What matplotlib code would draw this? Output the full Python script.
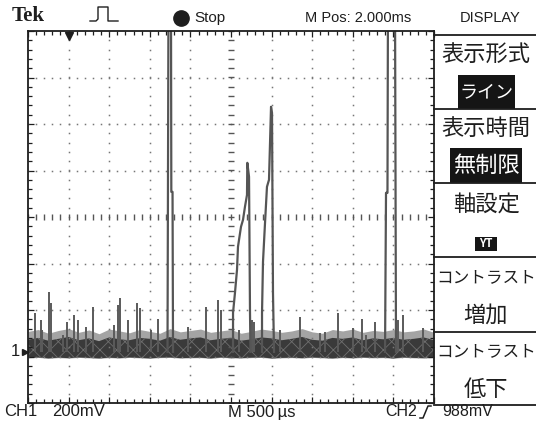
import numpy as np
import matplotlib.pyplot as plt
from matplotlib.lines import Line2D
from matplotlib.patches import Rectangle
from matplotlib.ticker import MultipleLocator

# scope settings: 500 us/div, 200 mV/div, CH1 ground 2.9 div below centre
ms_per_div = 0.5
mv_per_div = 200.0
ground_div = -2.9

# noise band envelope (mV above ground), sampled every 0.125 ms
band_t = np.arange(0, 5.001, 0.125)
band_top = [52, 60, 48, 56, 64, 50, 58, 46, 62, 54, 50, 60, 56, 48, 64, 52, 58, 62, 50, 56, 60,
            48, 54, 62, 58, 50, 56, 64, 52, 48, 60, 56, 62, 50, 58, 54, 60, 52, 56, 62, 50]
fuzz_top = [88, 96, 80, 92, 100, 84, 94, 78, 98, 90, 82, 96, 88, 80, 100, 86, 92, 98, 84, 90, 96,
            80, 88, 98, 92, 84, 90, 100, 86, 80, 96, 90, 98, 84, 92, 88, 96, 86, 90, 98, 84]
band_bot = [-26, -24, -28, -25, -27, -24, -26, -28, -25, -27, -24, -26, -28, -25, -24, -27, -26, -25, -28, -24, -26,
            -27, -25, -24, -28, -26, -25, -27, -24, -26, -28, -25, -27, -24, -26, -25, -28, -24, -26, -27, -25]

# small noise spikes: time (ms), peak (mV)
spike_t = [0.086, 0.160, 0.172, 0.259, 0.283, 0.431, 0.480, 0.567, 0.616, 0.714, 0.800,
           1.059, 1.108, 1.133, 1.232, 1.342, 1.379, 1.515, 1.601, 1.970, 2.192, 2.340,
           2.377, 2.599, 2.759, 2.783, 3.103, 3.350, 3.596, 3.658, 3.818, 4.002, 4.113,
           4.163, 4.273, 4.557, 4.618, 4.865]
spike_mv = [168, 138, 95, 258, 211, 73, 129, 159, 138, 108, 194,
            116, 202, 232, 138, 211, 189, 95, 142, 108, 194, 224,
            181, 95, 138, 129, 95, 151, 82, 86, 168, 103, 142,
            73, 129, 138, 159, 103]

# large pulses (ms, mV)
pulse_a_t = [1.718, 1.730, 1.761, 1.765, 1.780, 1.786]
pulse_a_mv = [0, 1500, 1500, 688, 688, 0]
hump1_t = [2.525, 2.525, 2.549, 2.574, 2.586, 2.623, 2.648, 2.672, 2.697, 2.701, 2.722, 2.734, 2.740]
hump1_mv = [0, 168, 254, 353, 452, 538, 568, 624, 675, 813, 753, 168, 0]
hump2_t = [2.882, 2.882, 2.894, 2.919, 2.943, 2.968, 2.993, 3.005, 3.017, 3.030]
hump2_mv = [0, 168, 387, 555, 710, 740, 1054, 1028, 254, 0]
pulse_b_t = [4.397, 4.409, 4.427, 4.433, 4.520, 4.532]
pulse_b_mv = [0, 684, 684, 1500, 1500, 0]


def tx(t):
    return np.asarray(t) / ms_per_div


def vy(mv):
    return np.asarray(mv) / mv_per_div + ground_div


jp = ['Noto Sans CJK JP', 'DejaVu Sans']
narrow = ['Liberation Sans Narrow', 'Liberation Sans', 'DejaVu Sans']
ink = '#1e1e1e'
plt.rcParams['hatch.linewidth'] = 0.6

fig = plt.figure(figsize=(5.36, 4.28), dpi=100)
ax = fig.add_axes([28 / 536, 1 - 403 / 428, 406 / 536, 372 / 428])
ax.set_xlim(0, 10)
ax.set_ylim(-4, 4)

# graticule
dots = np.arange(-4, 4.001, 0.2)
for xv in [1, 2, 3, 4, 6, 7, 8, 9]:
    ax.plot([xv] * len(dots), dots, ls='none', marker='s', ms=1.1, color='#777', mew=0)
hdots = np.arange(0, 10.001, 0.2)
for yv in [-3, -2, -1, 1, 2, 3]:
    ax.plot(hdots, [yv] * len(hdots), ls='none', marker='s', ms=1.1, color='#777', mew=0)
ax.plot([5] * len(dots), dots, ls='none', marker='_', ms=4, color='#555', mew=1.0)
ax.plot(hdots, [0] * len(hdots), ls='none', marker='|', ms=4, color='#555', mew=1.0)

ax.xaxis.set_major_locator(MultipleLocator(1))
ax.xaxis.set_minor_locator(MultipleLocator(0.2))
ax.yaxis.set_major_locator(MultipleLocator(1))
ax.yaxis.set_minor_locator(MultipleLocator(0.2))
ax.tick_params(which='both', direction='in', top=True, right=True,
               labelbottom=False, labelleft=False, color=ink, width=0.9)
ax.tick_params(which='major', length=4)
ax.tick_params(which='minor', length=3)
for s in ax.spines.values():
    s.set_color(ink)
    s.set_linewidth(1.3)

# noise band
ax.fill_between(tx(band_t), vy(band_bot), vy(fuzz_top), color='#a4a4a4', lw=0)
ax.fill_between(tx(band_t), vy(band_bot), vy(band_top), facecolor='#3a3a3a',
                edgecolor='#6e6e6e', hatch='xx', lw=0)
ax.vlines(tx(spike_t), vy(0), vy(spike_mv), color='#5a5a5a', lw=1.4)

for t, mv in [(pulse_a_t, pulse_a_mv), (hump1_t, hump1_mv), (hump2_t, hump2_mv), (pulse_b_t, pulse_b_mv)]:
    ax.plot(tx(t), vy(mv), color='#555', lw=1.6)

# ground marker and trigger position
ax.text(-0.3, ground_div, '1', ha='center', va='center', fontsize=12, family=narrow,
        color=ink, clip_on=False)
ax.plot([-0.08], [ground_div], marker='>', ms=4, color=ink, clip_on=False)
ax.plot([1.0], [3.9], marker='v', ms=6, color=ink, clip_on=False)

# header
fig.text(12 / 536, 1 - 16 / 428, 'Tek', fontsize=15, fontweight='bold',
         family=['Liberation Serif', 'DejaVu Serif'], color=ink, va='center')
fig.add_artist(Line2D(np.array([90, 96, 98, 98, 108, 108, 110, 118]) / 536,
                      1 - np.array([21, 21, 19, 7, 7, 21, 21, 21]) / 428, color=ink, lw=1.0))
fig.add_artist(Line2D([181 / 536], [1 - 18 / 428], marker='o', ms=11, color=ink))
fig.text(194 / 536, 1 - 18 / 428, 'Stop', fontsize=11, family=narrow, color=ink, va='center')
fig.text(305 / 536, 1 - 18 / 428, 'M Pos: 2.000ms', fontsize=10.5, family=narrow, color=ink, va='center')
fig.text(490 / 536, 1 - 18 / 428, 'DISPLAY', fontsize=10.5, family=narrow, color=ink,
         va='center', ha='center')

# footer
fig.text(4 / 536, 1 - 412 / 428, 'CH1', fontsize=12, family=narrow, color=ink, va='center')
fig.text(52 / 536, 1 - 412 / 428, '200mV', fontsize=12, family=narrow, color=ink, va='center')
fig.text(228 / 536, 1 - 412 / 428, 'M 500\u2009\u00b5s', fontsize=12, family=narrow, color=ink, va='center')
fig.text(385 / 536, 1 - 412 / 428, 'CH2', fontsize=11.5, family=narrow, color=ink, va='center')
fig.add_artist(Line2D(np.array([420, 423, 428, 431]) / 536, 1 - np.array([418, 418, 406, 406]) / 428,
                      color=ink, lw=1.1))
fig.text(442 / 536, 1 - 412 / 428, '988mV', fontsize=11.5, family=narrow, color=ink, va='center')

# side menu
for ypx in [35, 109, 183, 257, 332, 405]:
    fig.add_artist(Line2D([434 / 536, 1], [1 - ypx / 428] * 2, color=ink, lw=1.3))

cx = 486 / 536
for label, ypx, fs in [('表示形式', 55, 16), ('表示時間', 128, 16), ('軸設定', 205, 16),
                       ('コントラスト', 278, 12), ('増加', 315, 16),
                       ('コントラスト', 352, 12), ('低下', 390, 16)]:
    fig.text(cx, 1 - ypx / 428, label, fontsize=fs, family=jp, color=ink, ha='center', va='center')

for label, x0, x1, y0, y1, fs in [('ライン', 458, 515, 75, 109, 13), ('無制限', 450, 522, 148, 183, 16),
                                  ('YT', 475, 497, 237, 251, 8)]:
    fig.add_artist(Rectangle((x0 / 536, 1 - y1 / 428), (x1 - x0) / 536, (y1 - y0) / 428,
                             transform=fig.transFigure, color='#151515', lw=0))
    fig.text((x0 + x1) / 2 / 536, 1 - (y0 + y1) / 2 / 428, label, fontsize=fs, family=jp,
             color='white', ha='center', va='center', fontweight='bold' if label == 'YT' else 'normal')

fig.savefig('out.png', dpi=100)
